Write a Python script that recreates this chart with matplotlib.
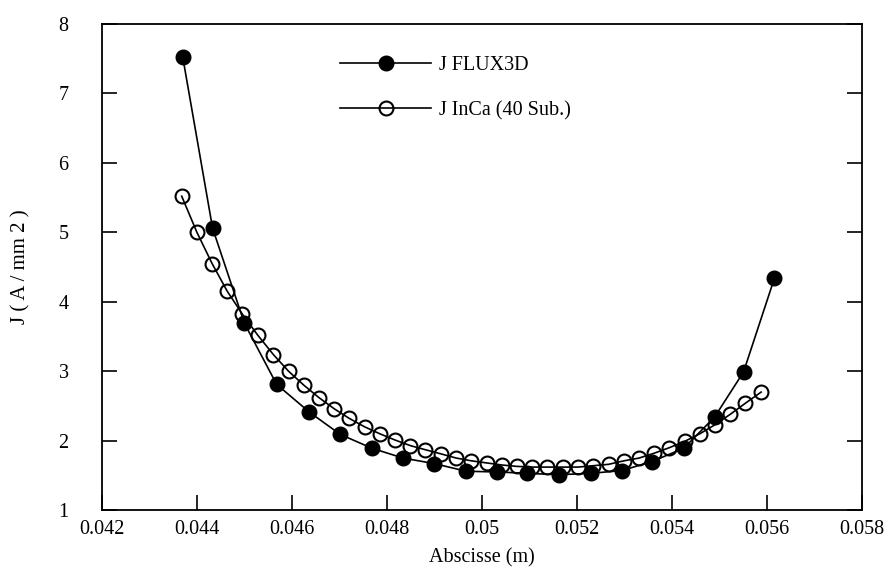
import matplotlib.pyplot as plt

plt.rcParams['font.family'] = ['Liberation Serif', 'DejaVu Serif']

# J FLUX3D (filled)
flux_x = [0.04370, 0.04433, 0.04500, 0.04568, 0.04637, 0.04702, 0.04769,
          0.04834, 0.04900, 0.04967, 0.05032, 0.05095, 0.05162, 0.05229,
          0.05295, 0.05358, 0.05425, 0.05490, 0.05551, 0.05616]
flux_y = [7.53, 5.06, 3.69, 2.81, 2.41, 2.09, 1.89, 1.75, 1.67, 1.56,
          1.55, 1.53, 1.51, 1.53, 1.57, 1.70, 1.89, 2.34, 2.99, 4.34]

# J InCa (40 Sub.) (open)
inca_x = [0.04368, 0.04400, 0.04432, 0.04464, 0.04496, 0.04528, 0.04561,
          0.04593, 0.04625, 0.04657, 0.04689, 0.04721, 0.04753, 0.04785,
          0.04817, 0.04849, 0.04881, 0.04914, 0.04946, 0.04978, 0.05010,
          0.05042, 0.05074, 0.05106, 0.05138, 0.05170, 0.05202, 0.05235,
          0.05267, 0.05299, 0.05331, 0.05363, 0.05395, 0.05427, 0.05459,
          0.05491, 0.05523, 0.05555, 0.05588]
inca_y = [5.52, 5.00, 4.55, 4.15, 3.82, 3.52, 3.24, 3.00, 2.80, 2.62,
          2.46, 2.32, 2.20, 2.10, 2.01, 1.93, 1.87, 1.81, 1.75, 1.71,
          1.68, 1.65, 1.63, 1.62, 1.62, 1.62, 1.62, 1.64, 1.66, 1.71,
          1.75, 1.82, 1.90, 1.99, 2.10, 2.23, 2.38, 2.54, 2.70]

xticks = [0.042, 0.044, 0.046, 0.048, 0.05, 0.052, 0.054, 0.056, 0.058]
xlabels = ['0.042', '0.044', '0.046', '0.048', '0.05', '0.052', '0.054', '0.056', '0.058']
yticks = [1, 2, 3, 4, 5, 6, 7, 8]

fig = plt.figure(figsize=(8.94, 5.70), dpi=100)
ax = fig.add_axes([0.114, 0.105, 0.85, 0.853])

ax.plot(flux_x, flux_y, color='black', lw=1.2, marker='o', markersize=10.5,
        markerfacecolor='black', markeredgecolor='black', label='J FLUX3D')
ax.plot(inca_x, inca_y, color='black', lw=1.2, marker='o', markersize=10,
        markerfacecolor='none', markeredgecolor='black', markeredgewidth=1.5,
        label='J InCa (40 Sub.)')

ax.set_xlim(0.042, 0.058)
ax.set_ylim(1, 8)
ax.set_xticks(xticks)
ax.set_xticklabels(xlabels)
ax.set_yticks(yticks)
ax.tick_params(direction='in', length=11, width=1.2, labelsize=14.5,
               right=True, top=False)
ax.tick_params(axis='y', pad=24)
ax.tick_params(axis='x', pad=7)
for s in ax.spines.values():
    s.set_linewidth(1.3)

ax.set_xlabel('Abscisse (m)', fontsize=14.5, labelpad=7)
ax.set_ylabel('J ( A / mm 2 )', fontsize=15, labelpad=20)

ax.legend(loc='upper left', bbox_to_anchor=(0.29, 0.972), frameon=False,
          fontsize=14.5, handlelength=4.5, labelspacing=1.3, handletextpad=0.4)

plt.savefig('out.png')
